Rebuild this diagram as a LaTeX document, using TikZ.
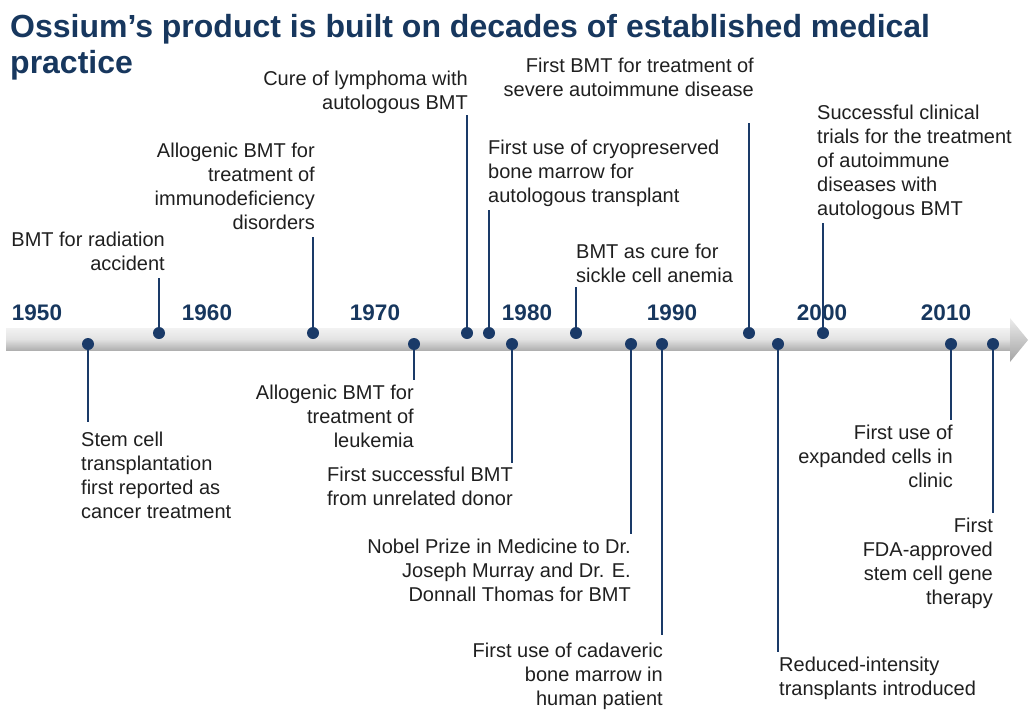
\documentclass[tikz,border=0pt]{standalone}
\usepackage{fontspec}
\setmainfont{Liberation Sans}
\usetikzlibrary{calc}

\begin{document}
\begin{tikzpicture}[x=1pt,y=-1pt]
%% colours and styles
\definecolor{ossiumblue}{RGB}{23,55,94}
\definecolor{stemblue}{RGB}{26,58,104}
\tikzstyle{evdot}=[circle,fill=stemblue,minimum size=12pt,inner sep=0pt]
\tikzstyle{stemline}=[draw=stemblue,line width=2.8pt]
\tikzstyle{lbl}=[inner sep=0pt,text=black!88,font=\fontsize{20}{24}\selectfont]
\tikzstyle{lblr}=[lbl,align=right]
\tikzstyle{lbll}=[lbl,align=left]
\tikzstyle{year}=[inner sep=0pt,anchor=base,text=ossiumblue,font=\fontsize{22.5}{26}\selectfont\bfseries]
\useasboundingbox (0,0) rectangle (1032,720);
%TITLE
\node[anchor=north west,inner sep=0pt,align=left,text=ossiumblue,font=\fontsize{32}{36}\selectfont\bfseries] (title) at (10,14) {Ossium’s product is built on decades of established medical\\practice};
%%%%%%%%%%%%%%%%%%%%%%%%%%%%%%%%%%%%%%%%%%%%%%%%%%%%%%%%%%%%%%%%%%%%%%%%
%TIME BAR
\shade[top color=gray!10,bottom color=gray!62,middle color=gray!22] (6,328) rectangle (1010,350);
\shade[top color=gray!15,bottom color=gray!72] (1010,318) -- (1028,340) -- (1010,362) -- cycle;
%years
\node[year] (y1950) at (37,320) {1950};
\node[year] (y1960) at (207,320) {1960};
\node[year] (y1970) at (375,320) {1970};
\node[year] (y1980) at (527,320) {1980};
\node[year] (y1990) at (672,320) {1990};
\node[year] (y2000) at (822,320) {2000};
\node[year] (y2010) at (946,320) {2010};
%%%%%%%%%%%%%%%%%%%%%%%%%%%%%%%%%%%%%%%%%%%%%%%%%%%%%%%%%%%%%%%%%%%%%%%%
%EVENTS
%1
\node[evdot] (event1) at (88,344) {};
\coordinate (end1) at (88,422);
\node[lbll,anchor=north west] (label1) at (81,432) {Stem cell\\transplantation\\first reported as\\cancer treatment};
%2
\node[evdot] (event2) at (159,333) {};
\coordinate (end2) at (159,278);
\node[lblr,anchor=north east] (label2) at (165,232) {BMT for radiation\\accident};
%3
\node[evdot] (event3) at (313,333) {};
\coordinate (end3) at (313,237);
\node[lblr,anchor=north east] (label3) at (315,143) {Allogenic BMT for\\treatment of\\immunodeficiency\\disorders};
%4
\node[evdot] (event4) at (414,344) {};
\coordinate (end4) at (414,380);
\node[lblr,anchor=north east] (label4) at (414,385) {Allogenic BMT for\\treatment of\\leukemia};
%5
\node[evdot] (event5) at (467,333) {};
\coordinate (end5) at (467,115);
\node[lblr,anchor=north east] (label5) at (468,71) {Cure of lymphoma with\\autologous BMT};
%6
\node[evdot] (event6) at (489,333) {};
\coordinate (end6) at (489,210);
\node[lbll,anchor=north west] (label6) at (488,140) {First use of cryopreserved\\bone marrow for\\autologous transplant};
%7
\node[evdot] (event7) at (512,344) {};
\coordinate (end7) at (512,463);
\node[lblr,anchor=north east] (label7) at (513,467) {First successful BMT\\from unrelated donor};
%8
\node[evdot] (event8) at (576,333) {};
\coordinate (end8) at (576,287);
\node[lbll,anchor=north west] (label8) at (576,244) {BMT as cure for\\sickle cell anemia};
%9
\node[evdot] (event9) at (631,344) {};
\coordinate (end9) at (631,534);
\node[lblr,anchor=north east] (label9) at (631,539) {Nobel Prize in Medicine to Dr.\\Joseph Murray and Dr. E.\\Donnall Thomas for BMT};
%10
\node[evdot] (event10) at (662,344) {};
\coordinate (end10) at (662,635);
\node[lblr,anchor=north east] (label10) at (663,643) {First use of cadaveric\\bone marrow in\\human patient};
%11
\node[evdot] (event11) at (749,333) {};
\coordinate (end11) at (749,123);
\node[lblr,anchor=north east] (label11) at (754,58) {First BMT for treatment of\\severe autoimmune disease};
%12
\node[evdot] (event12) at (778,344) {};
\coordinate (end12) at (778,652);
\node[lbll,anchor=north west] (label12) at (779,657) {Reduced-intensity\\transplants introduced};
%13
\node[evdot] (event13) at (823,333) {};
\coordinate (end13) at (823,223);
\node[lbll,anchor=north west] (label13) at (817,105) {Successful clinical\\trials for the treatment\\of autoimmune\\diseases with\\autologous BMT};
%14
\node[evdot] (event14) at (951,344) {};
\coordinate (end14) at (951,420);
\node[lblr,anchor=north east] (label14) at (953,425) {First use of\\expanded cells in\\clinic};
%15
\node[evdot] (event15) at (993,344) {};
\coordinate (end15) at (993,513);
\node[lblr,anchor=north east] (label15) at (993,518) {First\\FDA-approved\\stem cell gene\\therapy};
%%%%%%%%%%%%%%%%%%%%%%%%%%%%%%%%%%%%%%%%%%%%%%%%%%%%%%%%%%%%%%%%%%%%%%%%
%STEMS
\draw[stemline] (event1) -- (end1);
\draw[stemline] (event2) -- (end2);
\draw[stemline] (event3) -- (end3);
\draw[stemline] (event4) -- (end4);
\draw[stemline] (event5) -- (end5);
\draw[stemline] (event6) -- (end6);
\draw[stemline] (event7) -- (end7);
\draw[stemline] (event8) -- (end8);
\draw[stemline] (event9) -- (end9);
\draw[stemline] (event10) -- (end10);
\draw[stemline] (event11) -- (end11);
\draw[stemline] (event12) -- (end12);
\draw[stemline] (event13) -- (end13);
\draw[stemline] (event14) -- (end14);
\draw[stemline] (event15) -- (end15);
\end{tikzpicture}
\end{document}
